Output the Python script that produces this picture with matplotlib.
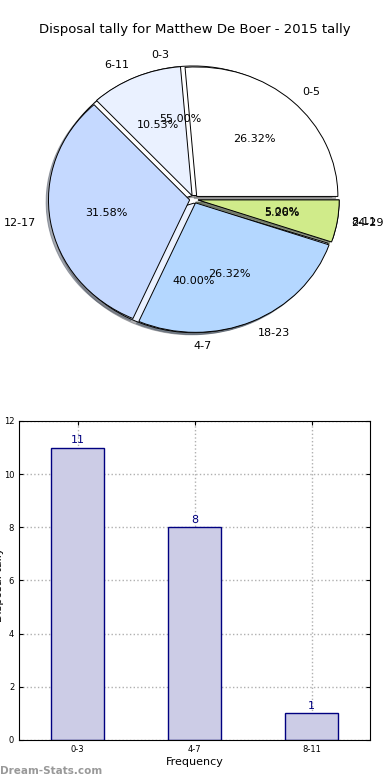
import matplotlib
matplotlib.use('Agg')
import matplotlib.pyplot as plt

# frequency groups (bar chart + first pie)
freq_labels = ['0-3', '4-7', '8-11']
freq_counts = [11, 8, 1]

# disposal groups (second pie)
disp_labels = ['0-5', '6-11', '12-17', '18-23', '24-29']
disp_counts = [5, 2, 6, 5, 1]

pie_colors = ['#ffffff', '#eaf1ff', '#c5d9ff', '#b4d7ff', '#d0eb8a']

fig = plt.figure(figsize=(3.9, 7.8), dpi=100)

shadow = {'ox': -0.012, 'oy': -0.012, 'shade': 0.6}
ax1 = fig.add_axes([0.0445, 0.537, 0.905, 0.415])
ax1.pie(freq_counts, labels=freq_labels, colors=pie_colors[:3], autopct='%.2f%%',
        explode=[0.03] * 3, shadow=shadow, startangle=0,
        wedgeprops={'linewidth': 0.7, 'edgecolor': 'black'},
        textprops={'fontsize': 8})
ax1.pie(disp_counts, labels=disp_labels, colors=pie_colors, autopct='%.2f%%',
        explode=[0.03] * 5, shadow=shadow, startangle=0,
        wedgeprops={'linewidth': 0.7, 'edgecolor': 'black'},
        textprops={'fontsize': 8})
ax1.set_aspect('auto')
ax1.set_xlim(-1.25, 1.25)
ax1.set_ylim(-1.25, 1.25)
fig.text(0.5, 0.962, 'Disposal tally for Matthew De Boer - 2015 tally',
         ha='center', va='center', fontsize=9.5)

ax2 = fig.add_axes([0.049, 0.0513, 0.9, 0.409])
x = range(len(freq_labels))
ax2.bar(x, freq_counts, width=0.45, color='#ccccE6', edgecolor='#000080', linewidth=1, zorder=2)
for i, v in enumerate(freq_counts):
    ax2.text(i, v + 0.1, str(v), ha='center', va='bottom', color='#000080', fontsize=8)
ax2.set_xlim(-0.5, 2.5)
ax2.set_ylim(0, 12)
ax2.set_yticks(range(0, 13, 2))
ax2.set_xticks(list(x))
ax2.set_xticklabels(freq_labels)
ax2.tick_params(direction='in', top=True, right=True, labelsize=6, length=3)
ax2.grid(True, linestyle=':', color='#b0b0b0', linewidth=1, zorder=3)
ax2.set_xlabel('Frequency', fontsize=8, labelpad=2)
fig.text(-0.003, 0.25, 'Disposal tally', rotation=90, ha='center', va='center', fontsize=8)

fig.text(0.0, 0.011, 'Dream-Stats.com', color='#999999', fontsize=7.5, fontweight='bold',
         ha='left', va='center')

plt.savefig('out.png', dpi=100)
